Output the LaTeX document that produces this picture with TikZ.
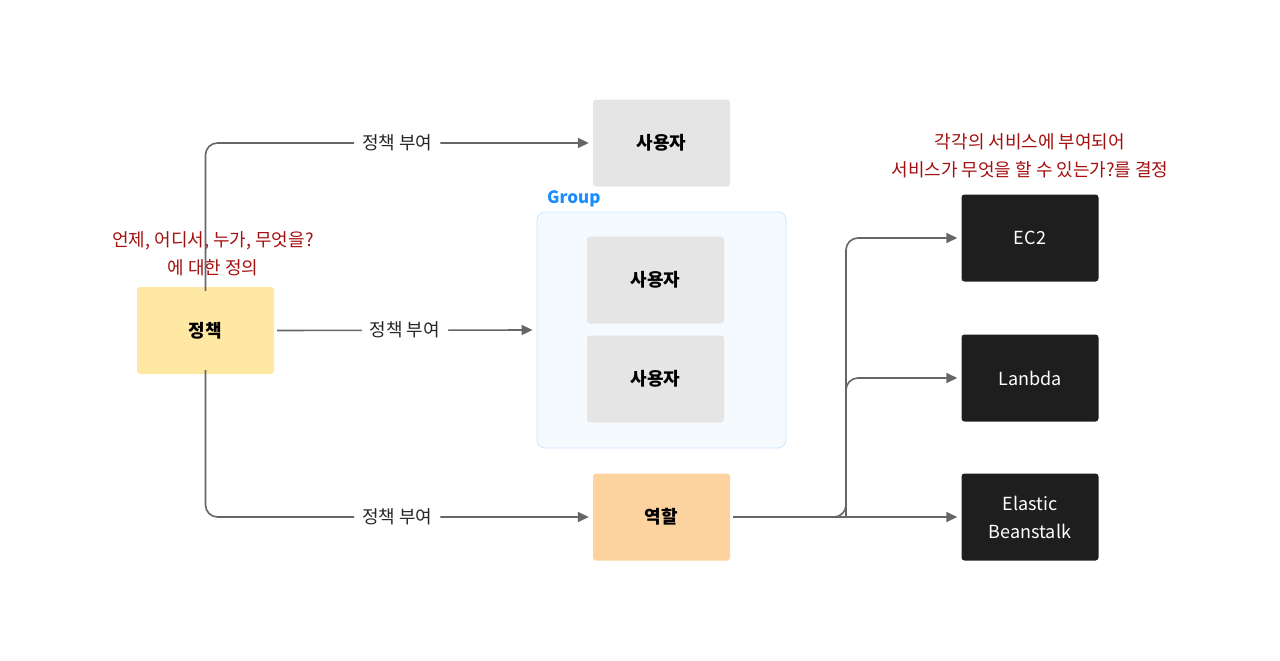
\documentclass[tikz,border=0pt]{standalone}
\usepackage{fontspec}
\setmainfont{Noto Sans CJK KR}
\usetikzlibrary{arrows.meta}
\definecolor{edgec}{HTML}{666666}
\definecolor{redc}{HTML}{A30F0F}
\definecolor{policyc}{HTML}{FFE8A3}
\definecolor{rolec}{HTML}{FCD29E}
\definecolor{userc}{HTML}{E5E5E5}
\definecolor{darkc}{HTML}{1E1E1E}
\definecolor{groupfill}{HTML}{F5FAFF}
\definecolor{groupline}{HTML}{CCE6FF}
\definecolor{groupt}{HTML}{1A8CFF}
\tikzset{
  box/.style={rounded corners=3pt, minimum width=137pt, minimum height=87pt, inner sep=0pt, font=\fontsize{18}{22}\selectfont\bfseries, align=center},
  userbox/.style={box, fill=userc, text=black},
  darkbox/.style={box, fill=darkc, text=white, font=\fontsize{18}{28}\selectfont},
  conn/.style={draw=edgec, line width=1.6pt, rounded corners=12pt, -{Triangle[length=11pt,width=10pt]}},
  elabel/.style={fill=white, inner xsep=8pt, inner ysep=2pt, font=\fontsize{18}{22}\selectfont, text=black!85},
  note/.style={text=redc, font=\fontsize{18}{28}\selectfont, align=center}
}
\begin{document}
\begin{tikzpicture}[x=1pt,y=-1pt]
\useasboundingbox (0,0) rectangle (1280,661);
% group
\node[draw=groupline, fill=groupfill, line width=0.8pt, rounded corners=8pt, minimum width=249pt, minimum height=236pt, inner sep=0pt] (grp) at (661.5,330) {};
\node[text=groupt, font=\fontsize{17}{20}\selectfont\bfseries, anchor=west, inner sep=0pt] (grpl) at (547,199) {Group};
% nodes
\node[box, fill=policyc] (pol) at (205.5,330.5) {정책};
\node[userbox] (u1) at (661.5,143) {사용자};
\node[userbox] (u2) at (655.5,280) {사용자};
\node[userbox] (u3) at (655.5,379) {사용자};
\node[box, fill=rolec] (role) at (661.5,517) {역할};
\node[darkbox] (ec2) at (1030,238) {EC2};
\node[darkbox] (lam) at (1030,378) {Lanbda};
\node[darkbox] (eb) at (1030,517) {Elastic\\Beanstalk};
% notes
\node[note] (n1) at (213,253.5) {언제, 어디서, 누가, 무엇을?\\에 대한 정의};
\node[note] (n2) at (1030,156) {각각의 서비스에 부여되어\\서비스가 무엇을 할 수 있는가?를 결정};
% connectors
\coordinate (ptop) at ([yshift=-4pt]pol.north);
\coordinate (pbot) at ([yshift=4pt]pol.south);
\draw[conn] (ptop) |- ([xshift=-4pt]u1.west) node[elabel, pos=0.75] {정책 부여};
\draw[conn] ([xshift=3pt]pol.east) -- ([xshift=-4pt]grp.west) node[elabel, midway] {정책 부여};
\draw[conn] (pbot) |- ([xshift=-4pt]role.west) node[elabel, pos=0.75] {정책 부여};
\coordinate (rout) at ([xshift=3pt]role.east);
\coordinate (br) at (846,517);
\draw[conn] (rout) -- ([xshift=-4pt]eb.west);
\draw[conn] (rout) -- (br) |- ([xshift=-4pt]ec2.west);
\draw[conn] (br) |- ([xshift=-4pt]lam.west);
\end{tikzpicture}
\end{document}
